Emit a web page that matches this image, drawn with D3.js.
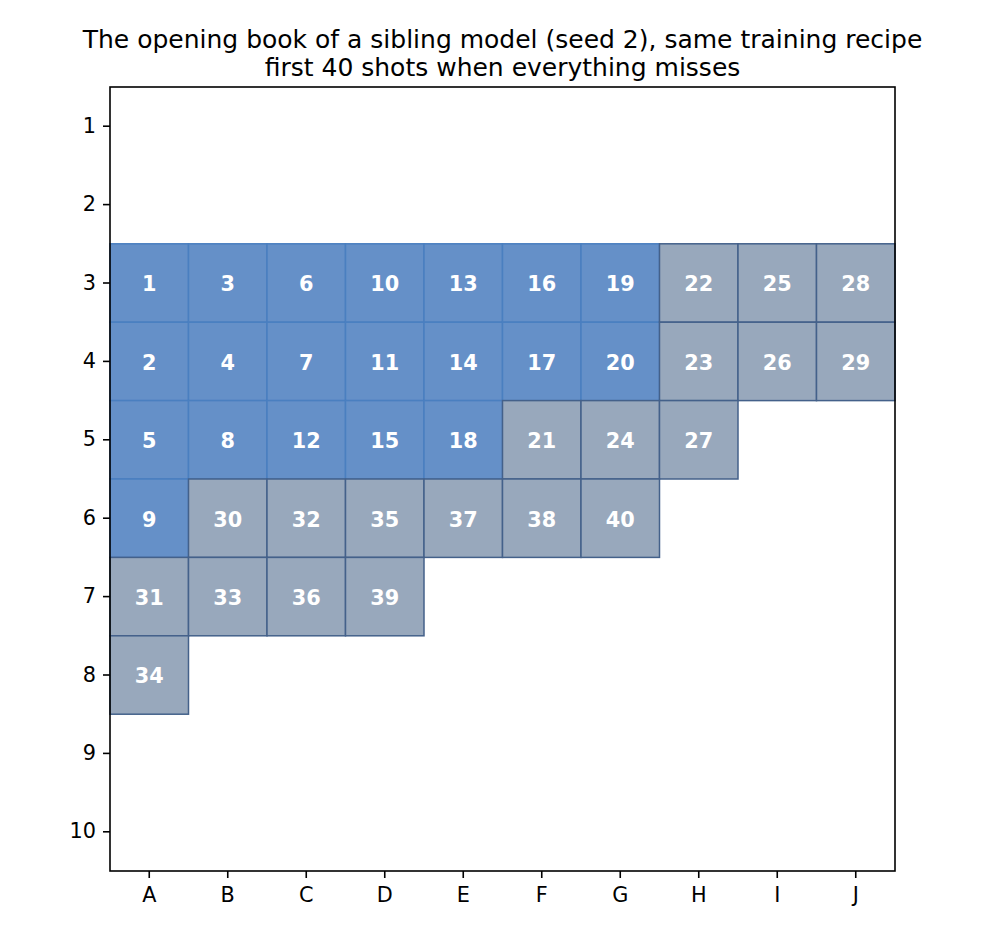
<!DOCTYPE html>
<html>
<head>
<meta charset="utf-8">
<script src="https://cdn.jsdelivr.net/npm/d3@7"></script>
<style>
  body { margin: 0; background: #fff; }
  text { font-family: "DejaVu Sans", sans-serif; }
</style>
</head>
<body>
<svg width="990" height="930"></svg>
<script>
var cols = ["A", "B", "C", "D", "E", "F", "G", "H", "I", "J"];
var rows = [1, 2, 3, 4, 5, 6, 7, 8, 9, 10];
// shot order: column letter and row number of each shot
var shotCols = ["A","A","B","B","A","C","C","B","A","D","D","C","E","E","D","F","F","E","G","G",
                "F","H","H","G","I","I","H","J","J","B","A","C","B","A","D","C","E","F","D","G"];
var shotRows = [3,4,3,4,5,3,4,5,6,3,4,5,3,4,5,3,4,5,3,4,
                5,3,4,5,3,4,5,3,4,6,7,6,7,8,6,7,6,6,7,6];
var numBook = 20; // first shots drawn in blue

var svg = d3.select("svg");
var mLeft = 110, mRight = 895, mTop = 87, mBottom = 871;

var x = d3.scaleBand().domain(cols).range([mLeft, mRight]).padding(0);
var y = d3.scaleBand().domain(rows).range([mTop, mBottom]).padding(0);

// title
svg.append("text").attr("x", (mLeft + mRight) / 2).attr("y", 48)
  .attr("text-anchor", "middle").attr("font-size", 25)
  .text("The opening book of a sibling model (seed 2), same training recipe");
svg.append("text").attr("x", (mLeft + mRight) / 2).attr("y", 75.5)
  .attr("text-anchor", "middle").attr("font-size", 25)
  .text("first 40 shots when everything misses");

var cells = svg.append("g");
shotCols.forEach(function(c, i) {
  var book = i < numBook;
  cells.append("rect")
    .attr("x", x(c)).attr("y", y(shotRows[i]))
    .attr("width", x.bandwidth()).attr("height", y.bandwidth())
    .attr("fill", book ? "#6590c8" : "#98a8bc")
    .attr("stroke", book ? "#4a7fc0" : "#44618a")
    .attr("stroke-width", 1.5);
});
shotCols.forEach(function(c, i) {
  cells.append("text")
    .attr("x", x(c) + x.bandwidth() / 2)
    .attr("y", y(shotRows[i]) + y.bandwidth() / 2 + 1)
    .attr("dy", "0.36em")
    .attr("text-anchor", "middle")
    .attr("font-size", 20.8).attr("font-weight", "bold")
    .attr("fill", "#fff")
    .text(i + 1);
});

// frame
svg.append("rect").attr("x", mLeft).attr("y", mTop)
  .attr("width", mRight - mLeft).attr("height", mBottom - mTop)
  .attr("fill", "none").attr("stroke", "#000").attr("stroke-width", 1.6);

var xAxis = svg.append("g").attr("transform", "translate(0," + mBottom + ")")
  .call(d3.axisBottom(x).tickSize(7).tickPadding(9));
var yAxis = svg.append("g").attr("transform", "translate(" + mLeft + ",0)")
  .call(d3.axisLeft(y).tickSize(7).tickPadding(7));
[xAxis, yAxis].forEach(function(a) {
  a.select(".domain").remove();
  a.selectAll("text").attr("font-size", 20.8).attr("fill", "#000")
    .attr("font-family", "DejaVu Sans, sans-serif");
  a.selectAll("line").attr("stroke", "#000").attr("stroke-width", 1.6);
});
</script>
</body>
</html>
